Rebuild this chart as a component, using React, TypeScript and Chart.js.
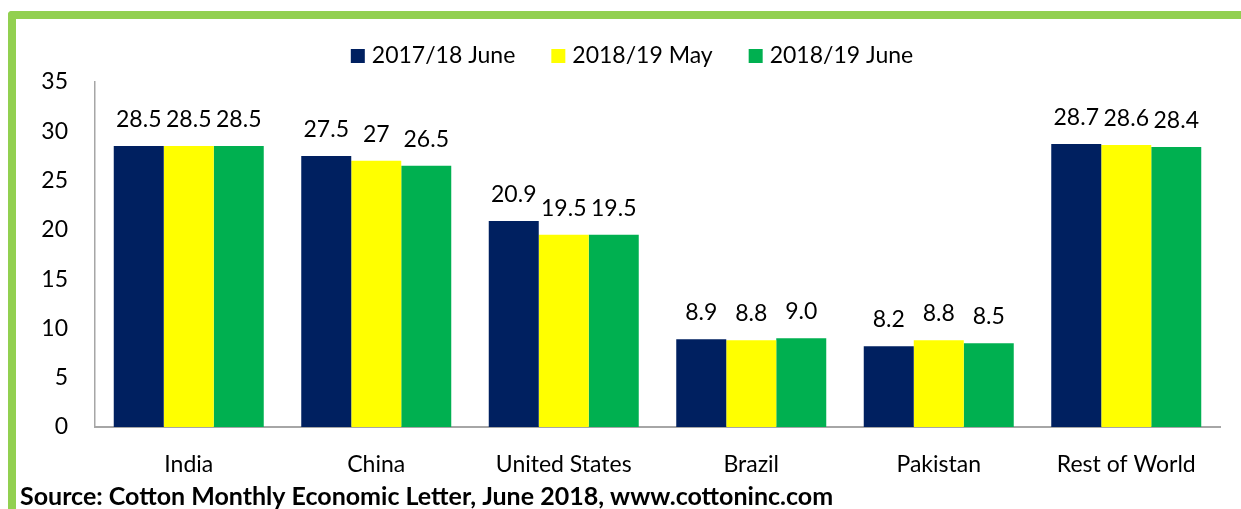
import React, { useEffect, useRef } from "react";
import { Chart, registerables } from "chart.js";

Chart.register(...registerables);

// ---------- data ----------
const categories = ["India", "China", "United States", "Brazil", "Pakistan", "Rest of World"];
const seriesNames = ["2017/18 June", "2018/19 May", "2018/19 June"];
const june2017Values = [28.5, 27.5, 20.9, 8.9, 8.2, 28.7];
const may2018Values = [28.5, 27, 19.5, 8.8, 8.8, 28.6];
const june2018Values = [28.5, 26.5, 19.5, 9.0, 8.5, 28.4];
const june2017Labels = ["28.5", "27.5", "20.9", "8.9", "8.2", "28.7"];
const may2018Labels = ["28.5", "27", "19.5", "8.8", "8.8", "28.6"];
const june2018Labels = ["28.5", "26.5", "19.5", "9.0", "8.5", "28.4"];
const yTickValues = [0, 5, 10, 15, 20, 25, 30, 35];
const sourceText = "Source: Cotton Monthly Economic Letter, June 2018, www.cottoninc.com";

// ---------- styles ----------
const FONT = "Lato";
const FONT_SIZE = 23;
const COLORS = ["#002060", "#FFFF00", "#00B050"];
const AXIS_COLOR = "#A6A6A6";
const FRAME_GREEN = "#92D050";

const seriesValues = [june2017Values, may2018Values, june2018Values];
const seriesLabels = [june2017Labels, may2018Labels, june2018Labels];

const valueLabelPlugin = {
  id: "valueLabels",
  afterDatasetsDraw(chart: any) {
    const ctx = chart.ctx;
    ctx.save();
    ctx.font = `${FONT_SIZE}px ${FONT}`;
    ctx.fillStyle = "#000";
    ctx.textAlign = "center";
    ctx.textBaseline = "alphabetic";
    chart.data.datasets.forEach((ds: any, di: number) => {
      const meta = chart.getDatasetMeta(di);
      meta.data.forEach((el: any, i: number) => {
        ctx.fillText(ds.valueLabels[i], el.x, el.y - 19);
      });
    });
    ctx.restore();
  },
};

const customLegendPlugin = {
  id: "customLegend",
  afterDraw(chart: any) {
    const ctx = chart.ctx;
    ctx.save();
    ctx.font = `${FONT_SIZE}px ${FONT}`;
    const boxW = 14;
    const boxH = 14;
    const gap = 7;
    const itemGap = 36;
    const centerX = 632;
    const centerY = 56;
    const widths = chart.data.datasets.map(
      (ds: any) => boxW + gap + ctx.measureText(ds.label).width
    );
    const total =
      widths.reduce((a: number, b: number) => a + b, 0) + itemGap * (widths.length - 1);
    let x = centerX - total / 2;
    ctx.textBaseline = "middle";
    ctx.textAlign = "left";
    chart.data.datasets.forEach((ds: any, i: number) => {
      ctx.fillStyle = ds.backgroundColor;
      ctx.fillRect(x, centerY - boxH / 2, boxW, boxH);
      ctx.fillStyle = "#000";
      ctx.fillText(ds.label, x + boxW + gap, centerY);
      x += widths[i] + itemGap;
    });
    ctx.restore();
  },
};

export default function App() {
  const canvasRef = useRef<HTMLCanvasElement | null>(null);

  useEffect(() => {
    if (!canvasRef.current) return;
    Chart.defaults.color = "#000";
    Chart.defaults.font.family = FONT;
    const chart = new Chart(canvasRef.current, {
      type: "bar",
      data: {
        labels: categories,
        datasets: seriesNames.map((name, i) => ({
          label: name,
          data: seriesValues[i],
          valueLabels: seriesLabels[i],
          backgroundColor: COLORS[i],
          borderWidth: 0,
          categoryPercentage: 0.8,
          barPercentage: 1.0,
        })) as any,
      },
      options: {
        responsive: false,
        animation: false,
        devicePixelRatio: 1,
        layout: { padding: { left: 20, right: 21, top: 82, bottom: 0 } },
        plugins: {
          legend: { display: false },
          tooltip: { enabled: false },
          title: {
            display: true,
            text: sourceText,
            position: "bottom",
            align: "start",
            color: "#000",
            font: { family: FONT, size: 25, weight: "bold", lineHeight: 1.2 },
            padding: { top: 8, bottom: -3 },
          },
        },
        scales: {
          x: {
            afterFit: (scale: any) => {
              scale.height = 47;
            },
            grid: { display: false, drawTicks: false },
            border: { display: true, color: AXIS_COLOR, width: 2 },
            ticks: {
              color: "#000",
              padding: 24,
              font: { family: FONT, size: FONT_SIZE, lineHeight: 1.2 },
              maxRotation: 0,
              autoSkip: false,
            },
          },
          y: {
            min: 0,
            max: 35,
            afterFit: (scale: any) => {
              scale.width = 75;
            },
            afterBuildTicks: (scale: any) => {
              scale.ticks = yTickValues.map((v) => ({ value: v }));
            },
            grid: { display: false, drawTicks: false },
            border: { display: true, color: AXIS_COLOR, width: 1.5 },
            ticks: {
              color: "#000",
              padding: 27,
              font: { family: FONT, size: FONT_SIZE, lineHeight: 1.2 },
            },
          },
        },
      },
      plugins: [valueLabelPlugin, customLegendPlugin],
    });
    return () => chart.destroy();
  }, []);

  return (
    <div
      style={{
        position: "fixed",
        left: 0,
        top: 0,
        width: 1241,
        height: 509,
        overflow: "hidden",
        background: "#fff",
      }}
    >
      <div
        style={{
          position: "absolute",
          left: 8,
          top: 11,
          width: 1300,
          height: 600,
          borderTop: `8px solid ${FRAME_GREEN}`,
          borderLeft: `8px solid ${FRAME_GREEN}`,
          borderTopLeftRadius: 4,
          boxSizing: "border-box",
        }}
      />
      <canvas
        ref={canvasRef}
        width={1241}
        height={509}
        style={{ position: "absolute", left: 0, top: 0, width: 1241, height: 509 }}
      />
    </div>
  );
}
